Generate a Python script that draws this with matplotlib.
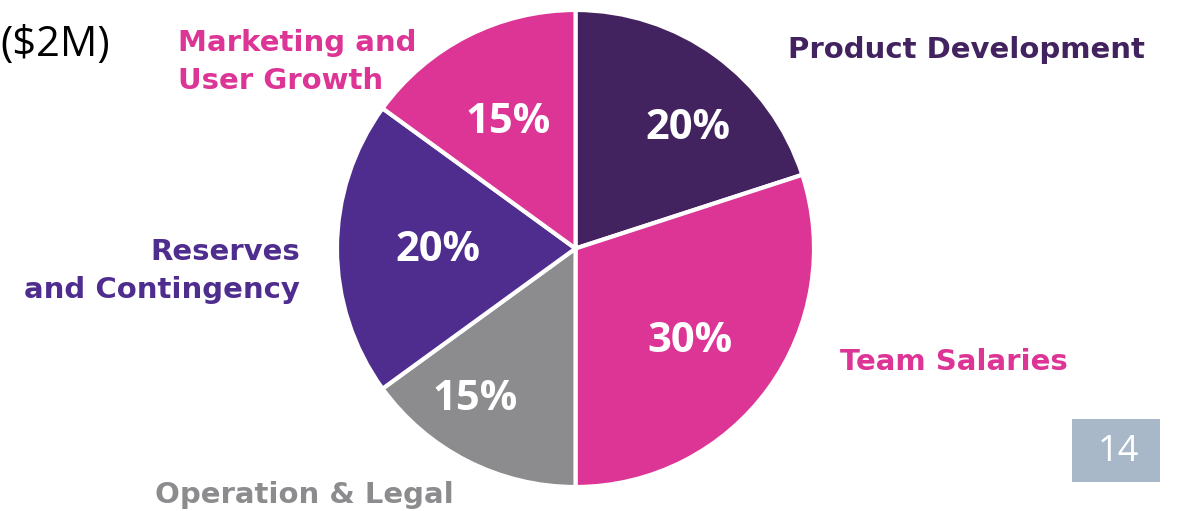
import matplotlib.pyplot as plt
from matplotlib.patches import Rectangle

W, H = 1188, 511

categories = ["Product Development", "Team Salaries", "Operation & Legal",
              "Reserves\nand Contingency", "Marketing and\nUser Growth"]
shares = [20, 30, 15, 20, 15]
colors = ["#42235F", "#DC3595", "#8C8C8E", "#4E2D8F", "#DC3595"]
page_number = "14"
title_tail = "($2M)"

fig = plt.figure(figsize=(W / 100, H / 100), dpi=100)
ax = fig.add_axes([0, 0, 1, 1])

cx, cy, R = 575.5, H - 248.5, 238.5
wedges, _ = ax.pie(shares, colors=colors, startangle=90, counterclock=False,
                   center=(cx, cy), radius=R, frame=True,
                   wedgeprops=dict(edgecolor="white", linewidth=3))
ax.set_xlim(0, W)
ax.set_ylim(0, H)
ax.set_aspect("equal")
ax.axis("off")

# percent labels (pixel positions, y from top)
pct_pos = [(688, 128), (690, 342), (475, 400), (438, 250), (508, 122)]
for (px, py), v in zip(pct_pos, shares):
    ax.text(px, H - py, f"{v}%", color="white", fontsize=30, fontweight="bold",
            family="Open Sans", ha="center", va="center")

# category labels
lab_font = dict(fontsize=21, fontweight="bold", family="DejaVu Sans", linespacing=1.45)
ax.text(788, H - 50, categories[0], color=colors[0], ha="left", va="center", **lab_font)
ax.text(840, H - 362, categories[1], color=colors[1], ha="left", va="center", **lab_font)
ax.text(155, H - 495, categories[2], color=colors[2], ha="left", va="center", **lab_font)
ax.text(300, H - 271, categories[3], color=colors[3], ha="right", va="center", **lab_font)
ax.text(178, H - 62, categories[4], color=colors[4], ha="left", va="center", **lab_font)

ax.text(110, H - 45, title_tail, fontsize=30, family="Open Sans", color="black",
        ha="right", va="center")

ax.add_patch(Rectangle((1072, H - 482), 88, 63, color="#A8B8C8", lw=0))
ax.text(1118, H - 452, page_number, fontsize=26, family="Open Sans", color="white",
        ha="center", va="center")

fig.savefig("out.png", dpi=100)
